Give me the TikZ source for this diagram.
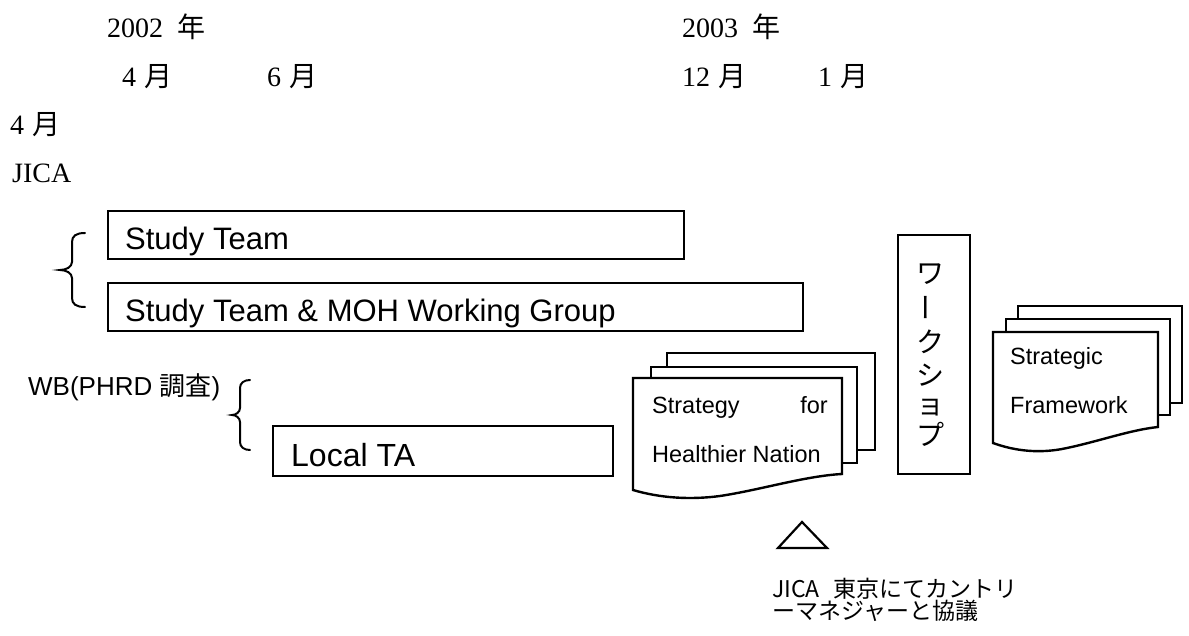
\documentclass[tikz,border=0pt]{standalone}
\usepackage{fontspec}
\setmainfont{Liberation Serif}
\setsansfont{Liberation Sans}
\newfontfamily\jp{Noto Sans CJK JP}
\newcommand\myfs[1]{\fontsize{#1}{#1}\selectfont}
\begin{document}
\begin{tikzpicture}[x=1pt,y=-1pt,
  box/.style={draw, line width=2.4pt, minimum height=48pt, inner sep=0pt, anchor=north west},
  sheet/.style={draw, line width=2.4pt, line join=miter},
  brc/.style={draw, line width=2pt, line cap=round},
  yr/.style={font=\myfs{28}, anchor=base west, inner sep=0pt},
  lbl/.style={font=\sffamily\myfs{31}, anchor=base west, inner sep=0pt},
  doctxt/.style={font=\sffamily\myfs{23.5}, inner sep=0pt},
  ws/.style={font=\jp\myfs{28}, inner sep=0pt},
  note/.style={font=\jp\myfs{23}, anchor=base west, inner sep=0pt},
]
\useasboundingbox (0,0) rectangle (1189,636);

% dates
\node[yr] (y2002) at (107,38) {2002\hspace{0.5em}{\jp 年}};
\node[yr] (m4)    at (122,87) {4\hspace{0.3em}{\jp 月}};
\node[yr] (m6)    at (267,87) {6\hspace{0.3em}{\jp 月}};
\node[yr] (y2003) at (682,38) {2003\hspace{0.5em}{\jp 年}};
\node[yr] (m12)   at (682,87) {12\hspace{0.3em}{\jp 月}};
\node[yr] (m1)    at (818,87) {1\hspace{0.3em}{\jp 月}};
\node[yr] (m4b)   at (10,135) {4\hspace{0.3em}{\jp 月}};
\node[yr] (jica)  at (12,183) {JICA};

% study team boxes
\node[box, minimum width=576pt] (st) at (107,210) {};
\node[lbl] (stl) at (125,250) {Study Team};
\node[box, minimum width=695pt] (stw) at (107,282) {};
\node[lbl] (stwl) at (125,322) {Study Team \& MOH Working Group};

% brace 1
\draw[brc] (85,233) .. controls (76,233) and (72,236) .. (72,242) -- (72,262)
  .. controls (72,267) and (66,270) .. (60,270)
  .. controls (66,270) and (72,273) .. (72,278) -- (72,298)
  .. controls (72,304) and (76,307) .. (85,307);

% WB
\node[font=\sffamily\myfs{26}, anchor=base west, inner sep=0pt] (wb) at (28,395) {WB(PHRD {\jp 調査})};
\draw[brc] (250,380) .. controls (244,380) and (240,383) .. (240,388) -- (240,408)
  .. controls (240,412) and (236,415) .. (232,415)
  .. controls (236,415) and (240,418) .. (240,422) -- (240,442)
  .. controls (240,447) and (244,450) .. (250,450);

% Local TA
\node[box, minimum width=340pt, minimum height=50pt] (lta) at (272,425) {};
\node[lbl, font=\sffamily\myfs{32}] (ltal) at (291,466) {Local TA};

% document 1
\draw[sheet] (667,367) -- (667,353) -- (875,353) -- (875,450) -- (857,450);
\draw[sheet] (651,378) -- (651,367) -- (857,367) -- (857,463) -- (842,463);
\draw[sheet, fill=white] (633,378) -- (842,378) -- (842,474)
  .. controls (805,476) and (760,490) .. (720,496)
  .. controls (690,500) and (660,498) .. (633,490) -- cycle;
\node[doctxt, anchor=base west] (s1) at (652,413) {Strategy};
\node[doctxt, anchor=base east] (s2) at (828,413) {for};
\node[doctxt, anchor=base west] (s3) at (652,462) {Healthier Nation};

% workshop
\node[box, minimum width=72pt, minimum height=239pt] (wsb) at (897,234) {};
\node[ws] (w1) at (930,274) {ワ};
\node[ws, rotate=90] (w2) at (930,308) {ー};
\node[ws] (w3) at (930,342) {ク};
\node[ws] (w4) at (930,375) {シ};
\node[ws] (w5) at (930,408) {ョ};
\node[ws] (w6) at (930,434) {プ};

% document 2
\draw[sheet] (1018,319) -- (1018,306) -- (1182,306) -- (1182,403) -- (1170,403);
\draw[sheet] (1006,332) -- (1006,319) -- (1170,319) -- (1170,415) -- (1158,415);
\draw[sheet, fill=white] (993,332) -- (1158,332) -- (1158,427)
  .. controls (1130,430) and (1100,441) .. (1067,448)
  .. controls (1040,454) and (1015,451) .. (993,443) -- cycle;
\node[doctxt, anchor=base west] (f1) at (1010,365) {Strategic};
\node[doctxt, anchor=base west] (f2) at (1010,413) {Framework};

% triangle
\draw[line width=2.2pt, line join=miter] (802,522) -- (827,548) -- (778,548) -- cycle;

% note
\node[note] (n1) at (772,597) {JICA\hspace{0.6em}東京にてカントリ};
\node[note] (n2) at (772,619) {ーマネジャーと協議};
\end{tikzpicture}
\end{document}
